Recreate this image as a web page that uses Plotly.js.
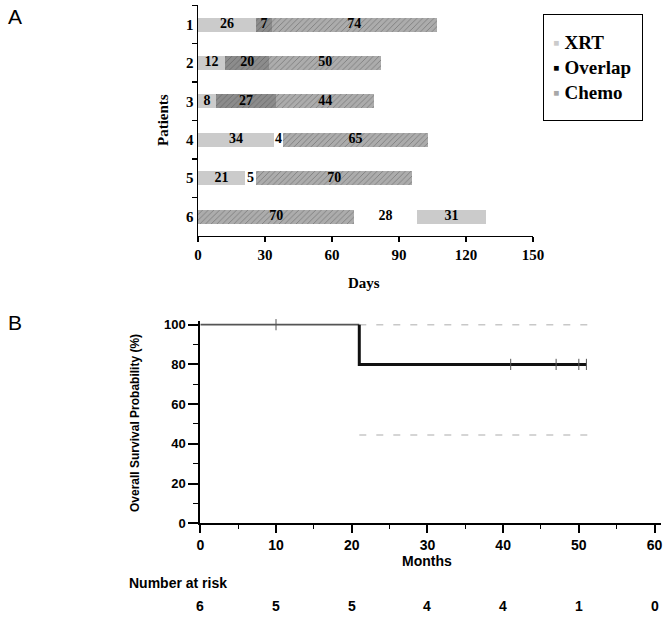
<!DOCTYPE html>
<html><head><meta charset="utf-8">
<script src="https://cdn.plot.ly/plotly-3.0.1.min.js"></script>
<style>html,body{margin:0;padding:0;background:#fff}#chart{width:668px;height:618px}</style>
</head><body><div id="chart"></div>
<script>
// ---- Panel A data: treatment segments per patient (days) ----
const patients = ['1','2','3','4','5','6'];
const seg1Days = [26,12,8,34,21,70];
const seg1Type = ['XRT','XRT','XRT','XRT','XRT','Chemo'];
const seg2Days = [7,20,27,4,5,28];
const seg2Type = ['Overlap','Overlap','Overlap','Gap','Gap','Gap'];
const seg3Days = [74,50,44,65,70,31];
const seg3Type = ['Chemo','Chemo','Chemo','Chemo','Chemo','XRT'];
const dayTicks = [0,30,60,90,120,150];
const legendNames = ['XRT','Overlap','Chemo'];

// ---- Panel B data: Kaplan-Meier overall survival ----
const kmMonths = [0,21,51];
const kmSurvival = [100,80,80];
const censorMonths = [10,41,47,50,51];
const censorSurvival = [100,80,80,80,80];
const ciMonths = [21,51.5];
const ciUpper = [100,100];
const ciLower = [44.5,44.5];
const monthTicks = [0,10,20,30,40,50,60];
const survTicks = [0,20,40,60,80,100];
const riskMonths = [0,10,20,30,40,50,60];
const riskCounts = [6,5,5,4,4,1,0];

// ---- styles ----
const W = 668, H = 618;
const px = v => v / W;
const py = v => 1 - v / H;
const typeColor = {XRT:'#cbcbcb', Overlap:'#8c8c8c', Chemo:'#acacac', Gap:'#ffffff'};
const typeFg = {XRT:'#c4c4c4', Overlap:'#848484', Chemo:'#a2a2a2', Gap:'#ffffff'};
const typeShape = {XRT:'', Overlap:'/', Chemo:'/', Gap:''};
const legendColor = {XRT:'#cbcbcb', Overlap:'#000000', Chemo:'#a8a8a8'};
const serif = 'Liberation Serif, Times New Roman, serif';
const sans = 'Liberation Sans, Arial, sans-serif';

function barTrace(vals, types){
  return {
    type:'bar', orientation:'h', y:patients, x:vals, width:0.365,
    marker:{
      color: types.map(t => typeColor[t]),
      line:{width:0},
      pattern:{
        shape: types.map(t => typeShape[t]),
        fgcolor: types.map(t => typeFg[t]),
        bgcolor: types.map(t => typeColor[t]),
        fillmode:'overlay', size:4, solidity:0.2
      }
    },
    xaxis:'x', yaxis:'y', hoverinfo:'skip', showlegend:false
  };
}

// label positions (segment midpoints) derived from the data
const labX = [], labY = [], labT = [];
patients.forEach((p, i) => {
  let start = 0;
  [seg1Days, seg2Days, seg3Days].forEach(arr => {
    labX.push(start + arr[i] / 2); labY.push(p); labT.push(String(arr[i]));
    start += arr[i];
  });
});

const traces = [
  barTrace(seg1Days, seg1Type),
  barTrace(seg2Days, seg2Type),
  barTrace(seg3Days, seg3Type),
  {type:'scatter', mode:'text', x:labX, y:labY, text:labT, xaxis:'x', yaxis:'y',
   textfont:{family:serif, size:14, weight:'bold', color:'#000'}, cliponaxis:false,
   hoverinfo:'skip', showlegend:false},
  // CI dashed lines
  {type:'scatter', mode:'lines', x:ciMonths, y:ciUpper, xaxis:'x2', yaxis:'y2',
   line:{color:'#c8c8c8', width:1.5, dash:'7px,10px'}, hoverinfo:'skip', showlegend:false, cliponaxis:false},
  {type:'scatter', mode:'lines', x:ciMonths, y:ciLower, xaxis:'x2', yaxis:'y2',
   line:{color:'#c8c8c8', width:1.5, dash:'7px,10px'}, hoverinfo:'skip', showlegend:false, cliponaxis:false},
  // KM curve: first interval (before first event)
  {type:'scatter', mode:'lines', x:kmMonths.slice(0,2), y:[kmSurvival[0], kmSurvival[0]], xaxis:'x2', yaxis:'y2',
   line:{color:'#555', width:1.6}, hoverinfo:'skip', showlegend:false, cliponaxis:false},
  // KM curve after the event
  {type:'scatter', mode:'lines', x:[kmMonths[1]].concat(kmMonths.slice(1)), y:[kmSurvival[0]].concat(kmSurvival.slice(1)),
   xaxis:'x2', yaxis:'y2', line:{color:'#111', width:3, shape:'hv'}, hoverinfo:'skip', showlegend:false, cliponaxis:false},
  // censor marks
  {type:'scatter', mode:'markers', x:censorMonths, y:censorSurvival, xaxis:'x2', yaxis:'y2',
   marker:{symbol:'line-ns', size:8, line:{color:'#555', width:1}}, hoverinfo:'skip', showlegend:false, cliponaxis:false}
];

const legendText = legendNames.map(n =>
  '<span style="color:' + legendColor[n] + '">▪</span> ' + n).join('<br>');

const ann = [
  {text:'A', xref:'paper', yref:'paper', x:px(15), y:py(17), font:{family:sans, size:21, color:'#000'}},
  {text:'B', xref:'paper', yref:'paper', x:px(15), y:py(322), font:{family:sans, size:21, color:'#000'}},
  {text:legendText, xref:'paper', yref:'paper', x:px(543), y:py(14), xanchor:'left', yanchor:'top',
   width:80, height:87, borderpad:9, borderwidth:1, bordercolor:'#000', align:'left', valign:'middle',
   font:{family:serif, size:19, weight:'bold', color:'#000'}},
  {text:'Patients', xref:'paper', yref:'paper', x:px(163.5), y:py(120.5), textangle:-90,
   font:{family:serif, size:15, weight:'bold', color:'#000'}},
  {text:'Days', xref:'paper', yref:'paper', x:px(364), y:py(283.3),
   font:{family:serif, size:15, weight:'bold', color:'#000'}},
  {text:'Overall Survival Probability (%)', xref:'paper', yref:'paper', x:px(135), y:py(423), textangle:-90,
   font:{family:sans, size:12, weight:'bold', color:'#000'}},
  {text:'Months', xref:'x2', yref:'paper', x:30, y:py(560.7),
   font:{family:sans, size:14, weight:'bold', color:'#000'}},
  {text:'Number at risk', xref:'paper', yref:'paper', x:px(127), y:py(583), xanchor:'left',
   font:{family:sans, size:14, weight:'bold', color:'#000'}}
];
riskMonths.forEach((m, i) => ann.push({text:String(riskCounts[i]), xref:'x2', yref:'paper', x:m, y:py(606),
  font:{family:sans, size:14, weight:'bold', color:'#000'}}));
ann.forEach(a => { a.showarrow = false; if (!a.xanchor) a.xanchor = 'center'; if (!a.yanchor) a.yanchor = 'middle'; });

const layout = {
  width:W, height:H, margin:{l:0, r:0, t:0, b:0},
  paper_bgcolor:'#fff', plot_bgcolor:'rgba(0,0,0,0)',
  showlegend:false, barmode:'stack', bargap:0,
  xaxis:{domain:[px(198), px(533)], range:[0,150], tickvals:dayTicks, ticks:'outside', ticklen:5, tickwidth:1.5,
    tickcolor:'#000', showline:true, linecolor:'#000', linewidth:1.5, showgrid:false, zeroline:false,
    tickfont:{family:serif, size:15, weight:'bold', color:'#000'}, anchor:'y', fixedrange:true, automargin:false},
  yaxis:{domain:[py(235.8), py(5.3)], type:'category', categoryorder:'array', categoryarray:patients,
    range:[5.5,-0.5], tickson:'boundaries', ticks:'outside', ticklen:5, tickwidth:1.5, tickcolor:'#000',
    showline:true, linecolor:'#000', linewidth:1.5, showgrid:false, zeroline:false,
    tickfont:{family:serif, size:15, weight:'bold', color:'#000'}, anchor:'x', fixedrange:true, automargin:false},
  xaxis2:{domain:[px(200.3), px(660.6)], range:[0,60.8], tickvals:monthTicks, ticks:'outside', ticklen:8, tickwidth:2,
    tickcolor:'#000', showline:true, linecolor:'#000', linewidth:2, showgrid:false, zeroline:false,
    minor:{dtick:5, tick0:0, ticks:'outside', ticklen:4, tickwidth:1, tickcolor:'#000', showgrid:false},
    tickfont:{family:sans, size:14, weight:'bold', color:'#000'}, anchor:'y2', fixedrange:true, automargin:false},
  yaxis2:{domain:[py(523.3), py(320.7)], range:[0,102], tickvals:survTicks, ticks:'outside', ticklen:10, tickwidth:2,
    tickcolor:'#000', showline:true, linecolor:'#000', linewidth:2, showgrid:false, zeroline:false,
    minor:{dtick:10, tick0:0, ticks:'outside', ticklen:5, tickwidth:1, tickcolor:'#000', showgrid:false},
    tickfont:{family:sans, size:13, weight:'bold', color:'#000'}, anchor:'x2', fixedrange:true, automargin:false},
  annotations: ann
};

Plotly.newPlot('chart', traces, layout, {staticPlot:true, displayModeBar:false});
</script>
</body></html>
